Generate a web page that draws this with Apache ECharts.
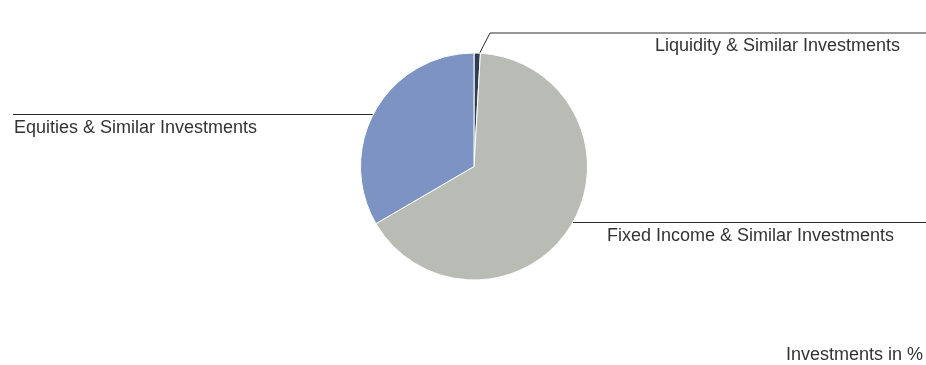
<!DOCTYPE html>
<html>
<head>
<meta charset="utf-8">
<script src="https://cdn.jsdelivr.net/npm/echarts@6/dist/echarts.min.js"></script>
<style>
html,body{margin:0;padding:0;background:#fff;}
#c{width:926px;height:365px;}
</style>
</head>
<body>
<div id="c"></div>
<script>
// Data (percent of investments)
const categories = ['Liquidity & Similar Investments', 'Fixed Income & Similar Investments', 'Equities & Similar Investments'];
const values = [0.9, 65.7, 33.4];
const colors = ['#2e3d52', '#b8bcb5', '#7d93c4'];
const footnote = 'Investments in %';

const chart = echarts.init(document.getElementById('c'), null, {renderer: 'canvas'});
const FONT = '"Liberation Sans", Arial, sans-serif';

// per-label layout (label anchor + leader line routing), indexed like categories
function layoutFor(i, p) {
  const e = p.labelLinePoints ? p.labelLinePoints[0] : [0, 0];
  if (i === 0) {
    return {x: 655, y: 46, align: 'left', verticalAlign: 'middle',
      labelLinePoints: [[e[0] + 2, e[1] + 1], [490, 33], [926, 33]]};
  } else if (i === 1) {
    return {x: 607, y: 236, align: 'left', verticalAlign: 'middle',
      labelLinePoints: [[e[0] - 14, 222.5], [926, 222.5]]};
  } else {
    return {x: 14, y: 128, align: 'left', verticalAlign: 'middle',
      labelLinePoints: [[e[0] + 6, 114.5], [13, 114.5]]};
  }
}

chart.setOption({
  animation: false,
  backgroundColor: '#ffffff',
  title: {
    text: footnote,
    left: 786,
    top: 346,
    padding: 0,
    textStyle: {fontFamily: FONT, fontSize: 18, fontWeight: 'normal', color: '#333'}
  },
  series: [{
    type: 'pie',
    center: [474, 166.5],
    radius: 113.5,
    startAngle: 90,
    clockwise: true,
    avoidLabelOverlap: false,
    itemStyle: {borderColor: '#ffffff', borderWidth: 1},
    label: {
      show: true,
      position: 'outside',
      formatter: '{b}',
      fontFamily: FONT,
      fontSize: 18,
      color: '#333'
    },
    labelLine: {show: true, length: 10, length2: 10, lineStyle: {color: '#2a2a2a', width: 1}},
    labelLayout: function (p) { return layoutFor(p.dataIndex, p); },
    emphasis: {disabled: true},
    data: categories.map((c, i) => ({name: c, value: values[i], itemStyle: {color: colors[i]}}))
  }]
});
</script>
</body>
</html>
